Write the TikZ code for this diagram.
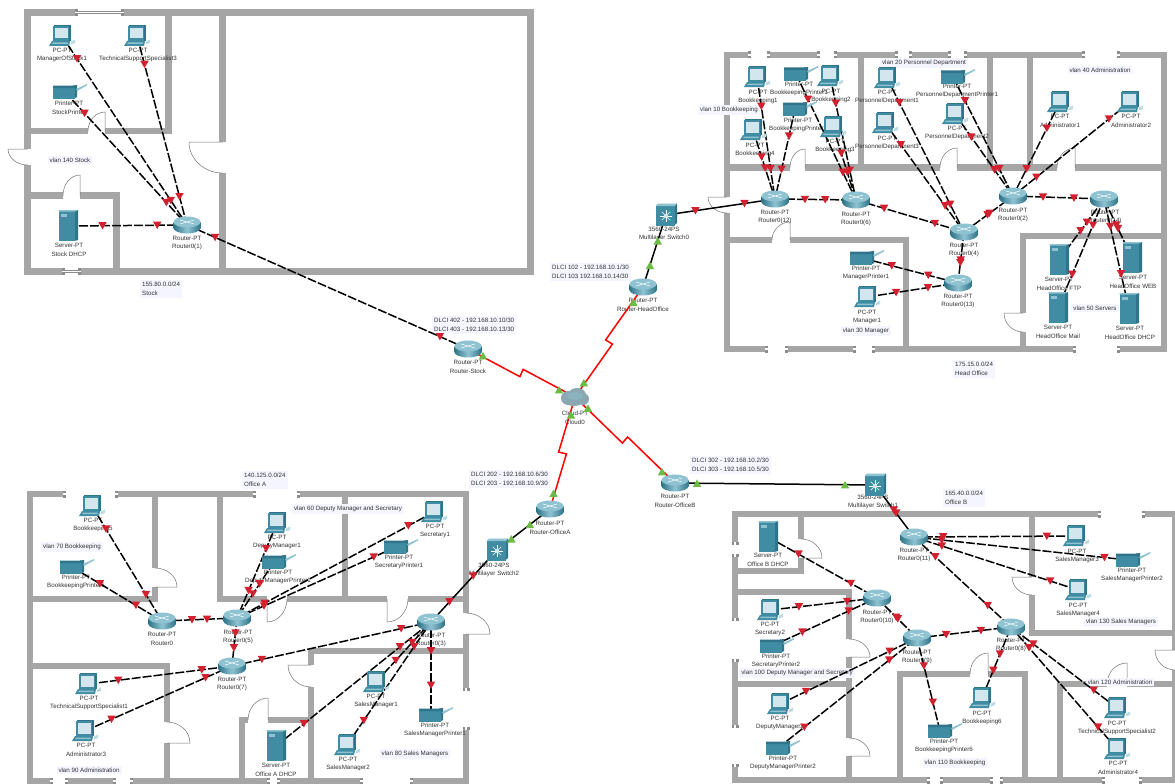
\documentclass[tikz,border=0pt]{standalone}
\usepackage{fontspec}
\setmainfont{Liberation Sans}
\usetikzlibrary{calc,arrows.meta}
\pgfdeclarelayer{walls}\pgfdeclarelayer{txt}\pgfdeclarelayer{links}\pgfdeclarelayer{tris}
\pgfsetlayers{walls,txt,links,main,tris}
\definecolor{wallc}{HTML}{A6A6A6}
\definecolor{teal1}{HTML}{3F8CA3}
\definecolor{teal2}{HTML}{2F7488}
\definecolor{teal3}{HTML}{8FC3D2}
\definecolor{scr}{HTML}{D3E6ED}
\definecolor{redt}{HTML}{D3202F}
\definecolor{grnt}{HTML}{6CBB45}
\definecolor{notec}{HTML}{F5F5FF}
\definecolor{txtc}{HTML}{333333}
\tikzset{
 wall/.style={draw=wallc,line width=6.5pt,line cap=rect},
 leaf/.style={draw=black!55,line width=.5pt},
 devlabel/.style={font=\fontsize{6.2}{8.5}\selectfont,text=txtc,align=center,inner sep=0pt},
 note/.style={font=\fontsize{6.2}{8.5}\selectfont,text=txtc,align=left,fill=notec,inner sep=2pt},
 lan/.style={draw=black,line width=1.5pt,dash pattern=on 9pt off 2pt},
 eth/.style={draw=black,line width=1.5pt},
 serial/.style={draw=red,line width=1.5pt},
}
% icons
\newcommand\pcicon{%
 \fill[teal2] (-8,-11)--(9,-11)--(9,5)--(-8,5)--cycle;
 \fill[teal1] (-9,-10)--(7,-10)--(7,5)--(-9,5)--cycle;
 \fill[scr] (-7,-8)--(5.5,-8)--(5.5,2.5)--(-7,2.5)--cycle;
 \fill[teal1] (-10,5)--(8,5)--(7,10)--(-13,10)--cycle;
 \fill[teal3] (-9,6.5)--(6,6.5)--(5.5,8)--(-10,8)--cycle;
 \fill[teal3!60] (9,5.5)--(13,3.5)--(13,7)--(9,8.5)--cycle;
}
\newcommand\prnicon{%
 \fill[teal2] (8,-6.5)--(12,-7)--(12,5)--(8,7)--cycle;
 \fill[teal1] (-12,-4)--(10,-4)--(10,7)--(-12,7)--cycle;
 \fill[teal2] (-12,-6.5)--(12,-6.5)--(10,-4)--(-12,-4)--cycle;
 \fill[teal3] (11,-3)--(22,-8)--(22,-6.5)--(12,-1)--cycle;
}
\newcommand\srvicon{%
 \fill[teal2] (6,-15)--(10,-16)--(10,14)--(6,15)--cycle;
 \fill[teal1] (-9.5,-15)--(7,-15)--(7,15)--(-9.5,15)--cycle;
 \fill[teal3] (-7.5,-12)--(-1,-12)--(-1,-9.5)--(-7.5,-9.5)--cycle;
 \fill[teal3] (-9.5,-16)--(10,-16)--(7,-14.5)--(-9.5,-14.5)--cycle;
}
\newcommand\rtricon{%
 \path[left color=teal2,right color=teal2,middle color=teal3] (-13.5,-3) rectangle (13.5,3);
 \path[left color=teal2,right color=teal2,middle color=teal3] (0,3) ellipse (13.5pt and 5.5pt);
 \fill[teal3] (0,-3) ellipse (13.5pt and 5.5pt);
 \draw[white,line width=.5pt] (-7,-5)--(7,-1) (-7,-1)--(7,-5);
}
\newcommand\swicon{%
 \fill[teal2] (8,-10.5)--(11,-11.5)--(11,8)--(8,10.5)--cycle;
 \fill[teal1] (-10.5,-9)--(9,-9)--(9,10.5)--(-10.5,10.5)--cycle;
 \fill[teal3] (-10.5,-9)--(9,-9)--(11,-11.5)--(-8,-11.5)--cycle;
 \foreach \a in {0,45,...,315}{\draw[white,line width=.5pt] (0,1) -- ++(\a:6pt);}
 \fill[scr] (0,1) circle (2pt);
}
\newcommand\cloudicon{%
 \fill[teal3!60!gray] (-7,1) ellipse (7pt and 7pt) (2,-2) ellipse (9pt and 7pt) (8,2) ellipse (6pt and 6pt) (-1,3) ellipse (10pt and 6pt);
 \fill[teal3!75!gray] (0,-1) ellipse (8pt and 4pt);
}
\newcommand\dev[7]{% id, icon, x, y, lx, ly, text
 \coordinate (#1) at (#3,#4);
 \begin{pgfonlayer}{txt}\node[devlabel] (#1-l) at (#5,#6) {#7};\end{pgfonlayer}
 \begin{scope}[shift={(#3,#4)}]#2\end{scope}}
\newcommand\pc[6]{\dev{#1}{\pcicon}{#2}{#3}{#4}{#5}{PC-PT\\#6}}
\newcommand\prn[6]{\dev{#1}{\prnicon}{#2}{#3}{#4}{#5}{Printer-PT\\#6}}
\newcommand\srv[6]{\dev{#1}{\srvicon}{#2}{#3}{#4}{#5}{Server-PT\\#6}}
\newcommand\rtr[6]{\dev{#1}{\rtricon}{#2}{#3}{#4}{#5}{Router-PT\\#6}}
\newcommand\msw[6]{\dev{#1}{\swicon}{#2}{#3}{#4}{#5}{3560-24PS\\#6}}
\newcommand\rtri[3]{\begin{pgfonlayer}{tris}\fill[redt,shift={($(#1)!#3!(#2)$)}] (-4.2,-3.6)--(4.2,-3.6)--(0,3.8)--cycle;\end{pgfonlayer}}
\newcommand\gtri[3]{\begin{pgfonlayer}{tris}\fill[grnt,shift={($(#1)!#3!(#2)$)}] (-4.2,3.6)--(4.2,3.6)--(0,-3.8)--cycle;\end{pgfonlayer}}
\newcommand\lk[4]{\draw[lan] (#1)--(#2);\rtri{#1}{#2}{#3}\rtri{#1}{#2}{#4}}
\newcommand\ek[4]{\draw[eth] (#1)--(#2);\rtri{#1}{#2}{#3}\rtri{#1}{#2}{#4}}
\newcommand\gk[4]{\draw[eth] (#1)--(#2);\gtri{#1}{#2}{#3}\gtri{#1}{#2}{#4}}
\newcommand\sk[4]{\draw[serial] (#1)--($(#1)!.5!(#2)!4pt!-90:(#2)$)--($(#1)!.5!(#2)!4pt!90:(#2)$)--(#2);\gtri{#1}{#2}{#3}\gtri{#1}{#2}{#4}}
% door: hinge, other jamb, leaf end
\newcommand\door[6]{%
 \draw[white,line width=7.6pt] (#1,#2)--(#3,#4);
 \draw[leaf] (#1,#2)--(#5,#6) .. controls ($(#5,#6)+.55*(#3,#4)-.55*(#1,#2)$) and ($(#3,#4)+.55*(#5,#6)-.55*(#1,#2)$) .. (#3,#4);}
\newcommand\win[4]{%
 \draw[white,line width=7.6pt] (#1,#2)--(#3,#4);
 \draw[black!45,line width=2.6pt,{Bar[width=7pt,length=1pt]}-{Bar[width=7pt,length=1pt]}] (#1,#2)--(#3,#4);
 \draw[white,line width=1.6pt] (#1,#2)--(#3,#4);}
\newcommand\nt[5]{\begin{pgfonlayer}{txt}\node[note,#4] (#1) at (#2,#3) {#5};\end{pgfonlayer}}
\begin{document}
\begin{tikzpicture}[x=1pt,y=-1pt]
\useasboundingbox (0,0) rectangle (1175,784);
\begin{pgfonlayer}{walls}
\fill[white] (0,0) rectangle (1175,784);
% ---- Stock walls
\draw[wall] (27.5,12.5) rectangle (530.5,271.5);
\draw[wall] (168.5,12.5)--(168.5,131) (27.5,131)--(168.5,131) (222.5,12.5)--(222.5,271.5);
\draw[wall] (27.5,195.5)--(116.5,195.5)--(116.5,271.5);
\win{75}{12.5}{124}{12.5} \win{62}{271.5}{81}{271.5}
\door{105}{131}{88}{131}{105}{112}
\door{27.5}{149}{27.5}{165}{8}{149}
\door{222.5}{142}{222.5}{173}{189}{142}
\door{80}{195.5}{63}{195.5}{80}{175}
% ---- Head office walls
\draw[wall] (727,55) rectangle (1164,349);
\draw[wall] (727,167.5)--(1164,167.5) (861,55)--(861,167.5) (990,55)--(990,167.5) (1030,55)--(1030,167.5);
\draw[wall] (727,240)--(906,240)--(906,349) (1023,349)--(1023,236)--(1164,236);
\win{748}{55}{770}{55} \win{817}{55}{837}{55} \win{895}{55}{912}{55} \win{948}{55}{967}{55} \win{1082}{55}{1120}{55}
\win{765}{349}{788}{349} \win{853}{349}{875}{349} \win{1073}{349}{1120}{349}
\door{805}{167.5}{790}{167.5}{805}{149}
\door{957}{167.5}{940}{167.5}{957}{148}
\door{1075}{167.5}{1057}{167.5}{1075}{148}
\door{727}{197}{727}{213}{708}{197}
\door{790}{240}{772}{240}{790}{222}
\door{1023}{313}{1023}{332}{1004}{313}
% ---- Office A walls
\draw[wall] (30,781)--(30,494)--(466,494)--(466,781)--cycle;
\draw[wall] (155,494)--(155,599)--(30,599) (220,494)--(220,599)--(466,599) (345,494)--(345,599);
\draw[wall] (30,666)--(167,666)--(167,781) (311,781)--(311,651)--(466,651) (242,781)--(242,720)--(311,720);
\win{63}{494}{118}{494} \win{253}{494}{300}{494} \win{50}{781}{68}{781} \win{113}{781}{133}{781} \win{267}{781}{280}{781} \win{360}{781}{413}{781} \win{466}{688}{466}{730}
\door{155}{587}{155}{568}{177}{587}
\door{267}{599}{287}{599}{267}{622}
\door{387}{599}{408}{599}{387}{622}
\door{466}{634}{466}{613}{490}{634}
\door{167}{743}{167}{722}{190}{743}
\door{311}{665}{311}{687}{288}{665}
\door{268}{720}{248}{720}{268}{698}
% ---- Office B walls
\draw[wall] (1175,514)--(735,514)--(735,780)--(1175,780);
\draw[wall] (1175,514)--(1175,780);
\draw[wall] (801,514)--(801,571)--(735,571) (735,592)--(849,592)--(849,780) (735,684)--(849,684);
\draw[wall] (900,780)--(900,674)--(1025,674)--(1025,780) (1060,780)--(1060,684)--(1175,684);
\draw[wall] (1032,514)--(1032,633)--(1175,633);
\win{1098}{514}{1145}{514} \win{735}{542}{735}{557} \win{735}{618}{735}{662} \win{735}{725}{735}{767}
\win{927}{780}{943}{780} \win{990}{780}{1003}{780} \win{1102}{780}{1142}{780}
\door{801}{558}{801}{539}{822}{558}
\door{849}{657}{849}{639}{870}{657}
\door{849}{756}{849}{738}{870}{756}
\door{988}{674}{970}{674}{988}{653}
\door{1032}{577}{1032}{595}{1012}{577}
\door{1127}{684}{1107}{684}{1127}{663}
\door{1175}{650}{1175}{670}{1155}{650}
\end{pgfonlayer}
% ---- notes
\nt{n1}{140}{289}{anchor=west}{155.80.0.0/24\\Stock}
\nt{n2}{953}{369}{anchor=west}{175.15.0.0/24\\Head Office}
\nt{n3}{242}{480}{anchor=west}{140.125.0.0/24\\Office A}
\nt{n4}{943}{498}{anchor=west}{165.40.0.0/24\\Office B}
\nt{d1}{550}{272}{anchor=west}{DLCI 102 - 192.168.10.1/30\\DLCI 103 192.168.10.14/30}
\nt{d2}{432}{325}{anchor=west}{DLCI 402 - 192.168.10.10/30\\DLCI 403 - 192.168.10.13/30}
\nt{d3}{469}{479}{anchor=west}{DLCI 202 - 192.168.10.6/30\\DLCI 203 - 192.168.10.9/30}
\nt{d4}{690}{465}{anchor=west}{DLCI 302 - 192.168.10.2/30\\DLCI 303 - 192.168.10.5/30}
\nt{v140}{70}{160}{}{vlan 140 Stock}
\nt{v10}{729}{110}{}{vlan 10 Bookkeeping}
\nt{v20}{924}{63}{}{vlan 20 Personnel Department}
\nt{v30}{866}{331}{}{vlan 30 Manager}
\nt{v40}{1100}{70}{}{vlan 40 Administration}
\nt{v50}{1095}{308}{}{vlan 50 Servers}
\nt{v60}{348}{509}{}{vlan 60 Deputy Manager and Secretary}
\nt{v70}{72}{547}{}{vlan 70 Bookkeeping}
\nt{v80}{415}{754}{}{vlan 80 Sales Managers}
\nt{v90}{89}{770}{}{vlan 90 Administration}
\nt{v100}{797}{673}{}{vlan 100 Deputy Manager and Secretary}
\nt{v110}{955}{763}{}{vlan 110 Bookkeeping}
\nt{v120}{1120}{682}{}{vlan 120 Administration}
\nt{v130}{1121}{622}{}{vlan 130 Sales Managers}
% ---- devices: Stock
\pc{mos}{62}{36}{62}{55}{ManagerOfStock1}
\pc{tss3}{137}{36}{138}{55}{TechnicalSupportSpecialist3}
\prn{sp}{65}{92}{69}{108}{StockPrinter}
\srv{sd}{68}{226}{69}{250}{Stock DHCP}
\rtr{r1}{187}{225}{187}{243}{Router0(1)}
% centre
\rtr{rs}{468}{349}{468}{367}{Router-Stock}
\dev{cl}{\cloudicon}{575}{397}{575}{418}{Cloud-PT\\Cloud0}
\rtr{rh}{643}{287}{643}{305}{Router-HeadOffice}
\msw{s0}{666}{215}{664}{234}{Multilayer Switch0}
\rtr{ra}{550}{509}{550}{528}{Router-OfficeA}
\rtr{rb}{675}{483}{675}{501}{Router-OfficeB}
\msw{s1}{875}{485}{873}{502}{Multilayer Switch1}
\msw{s2}{497}{550}{494}{570}{Multilayer Switch2}
% Head office
\pc{b1}{757}{77}{758}{97}{Bookkeeping1}
\prn{bp1}{796}{74}{799}{89}{BookkeepingPrinter1}
\pc{b2}{830}{76}{831}{96}{Bookkeeping2}
\prn{bp2}{795}{109}{798}{125}{BookkeepingPrinter2}
\pc{b4}{753}{130}{755}{150}{Bookkeeping4}
\pc{b3}{833}{127}{835}{146}{Bookkeeping3}
\rtr{r12}{775}{199}{775}{217}{Router0(12)}
\rtr{r6}{856}{200}{856}{219}{Router0(6)}
\rtr{r4}{964}{232}{964}{250}{Router0(4)}
\rtr{r2}{1013}{196}{1013}{215}{Router0(2)}
\rtr{r14}{1104}{199}{1105}{217}{Router0(14)}
\rtr{r13}{958}{283}{958}{301}{Router0(13)}
\prn{mp1}{862}{258}{866}{273}{ManagerPrinter1}
\pc{m1}{867}{297}{867}{317}{Manager1}
\pc{pd1}{887}{78}{887}{97}{PersonnelDepartment1}
\pc{pd3}{885}{123}{887}{143}{PersonnelDepartment3}
\prn{pdp}{953}{77}{957}{91}{PersonnelDepartmentPrinter1}
\pc{pd2}{955}{114}{957}{133}{PersonnelDepartment2}
\pc{ad1}{1060}{102}{1060}{121}{Administrator1}
\pc{ad2}{1130}{102}{1131}{121}{Administrator2}
\srv{ftp}{1059}{260}{1059}{284}{HeadOffice FTP}
\srv{web}{1132}{258}{1133}{282}{HeadOffice WEB}
\srv{mail}{1058}{308}{1058}{332}{HeadOffice Mail}
\srv{dhcp}{1129}{309}{1130}{333}{HeadOffice DHCP}
% Office A
\pc{b5}{92}{506}{93}{525}{Bookkeeping5}
\prn{bp5}{72}{567}{76}{582}{BookkeepingPrinter5}
\rtr{r0}{162}{621}{162}{639}{Router0}
\rtr{r5}{237}{618}{238}{637}{Router0(5)}
\rtr{r7}{232}{666}{232}{684}{Router0(7)}
\rtr{r3}{431}{622}{431}{640}{Router0(3)}
\pc{dm1}{277}{523}{277}{542}{DeputyManager1}
\prn{dmp1}{274}{562}{278}{577}{DeputyManagerPrinter1}
\pc{se1}{434}{512}{435}{531}{Secretary1}
\prn{sep1}{396}{547}{399}{562}{SecretaryPrinter1}
\pc{ts1}{88}{684}{89}{703}{TechnicalSupportSpecialist1}
\pc{ad3}{85}{731}{86}{750}{Administrator3}
\srv{da}{276}{746}{276}{770}{Office A DHCP}
\pc{sm1}{376}{682}{376}{701}{SalesManager1}
\pc{sm2}{347}{745}{348}{764}{SalesManager2}
\prn{smp1}{431}{715}{435}{730}{SalesManagerPrinter1}
% Office B
\srv{db}{768}{537}{768}{560}{Office B DHCP}
\rtr{r11}{914}{537}{914}{555}{Router0(11)}
\rtr{r10}{877}{598}{877}{617}{Router0(10)}
\rtr{r9}{917}{638}{917}{657}{Router0(9)}
\rtr{r8}{1011}{627}{1011}{645}{Router0(8)}
\pc{sm3}{1076}{536}{1077}{556}{SalesManager3}
\prn{smp2}{1128}{560}{1132}{575}{SalesManagerPrinter2}
\pc{sm4}{1078}{590}{1078}{610}{SalesManager4}
\pc{se2}{770}{610}{770}{629}{Secretary2}
\prn{sep2}{772}{646}{776}{661}{SecretaryPrinter2}
\pc{dm2}{780}{704}{780}{723}{DeputyManager2}
\prn{dmp2}{778}{748}{783}{763}{DeputyManagerPrinter2}
\prn{bp6}{940}{731}{944}{746}{BookkeepingPrinter6}
\pc{b6}{982}{698}{982}{718}{Bookkeeping6}
\pc{ts2}{1117}{708}{1117}{728}{TechnicalSupportSpecialist2}
\pc{ad4}{1117}{749}{1118}{768}{Administrator4}
% ---- links
\begin{pgfonlayer}{links}
\lk{mos}{r1}{.12}{.87}
\lk{tss3}{r1}{.15}{.85}
\lk{sp}{r1}{.16}{.83}
\lk{sd}{r1}{.29}{.75}
\lk{r1}{rs}{.1}{.9}
\sk{rs}{cl}{.14}{.85}
\sk{cl}{rh}{.13}{.86}
\sk{cl}{ra}{.16}{.86}
\sk{cl}{rb}{.13}{.87}
\gk{rh}{s0}{.3}{.64}
\gk{rb}{s1}{.11}{.85}
\gk{ra}{s2}{.38}{.73}
\ek{s0}{r12}{.27}{.72}
\ek{s1}{r11}{.48}{.54}
\ek{s2}{r3}{.36}{.72}
% head office
\lk{b1}{r12}{.24}{.75}
\lk{b4}{r12}{.39}{.55}
\lk{bp2}{r12}{.3}{.67}
\lk{bp1}{r6}{.2}{.78}
\lk{b2}{r6}{.22}{.76}
\lk{b3}{r6}{.36}{.62}
\lk{r12}{r6}{.37}{.62}
\lk{r6}{r4}{.26}{.73}
\lk{r4}{r2}{.48}{.52}
\lk{r2}{r14}{.33}{.67}
\lk{r4}{r13}{.55}{.6}
\lk{pd1}{r4}{.16}{.82}
\lk{pd3}{r4}{.2}{.76}
\lk{pdp}{r2}{.2}{.77}
\lk{pd2}{r2}{.28}{.68}
\lk{ad1}{r2}{.28}{.71}
\lk{ad2}{r2}{.18}{.8}
\lk{mp1}{r13}{.31}{.69}
\lk{m1}{r13}{.32}{.67}
\lk{ftp}{r14}{.48}{.62}
\lk{mail}{r14}{.31}{.76}
\lk{web}{r14}{.5}{.56}
\lk{dhcp}{r14}{.32}{.75}
% office A
\lk{b5}{r0}{.2}{.77}
\lk{bp5}{r0}{.31}{.71}
\lk{r0}{r5}{.4}{.6}
\lk{dm1}{r5}{.27}{.71}
\lk{dmp1}{r5}{.39}{.57}
\lk{se1}{r5}{.13}{.86}
\lk{sep1}{r5}{.14}{.83}
\lk{r5}{r7}{.31}{.62}
\lk{ts1}{r7}{.21}{.79}
\lk{ad3}{r7}{.18}{.82}
\lk{r7}{r3}{.15}{.85}
\lk{da}{r3}{.18}{.8}
\lk{sm1}{r3}{.36}{.66}
\lk{sm2}{r3}{.2}{.8}
\lk{smp1}{r3}{.32}{.69}
% office B
\lk{db}{r10}{.28}{.76}
\lk{se2}{r10}{.27}{.72}
\lk{sep2}{r10}{.29}{.73}
\lk{r10}{r9}{.48}{.52}
\lk{dm2}{r9}{.19}{.8}
\lk{dmp2}{r9}{.19}{.8}
\lk{r9}{r8}{.31}{.68}
\lk{r11}{r8}{.22}{.76}
\lk{bp6}{r9}{.31}{.7}
\lk{b6}{r8}{.39}{.62}
\lk{ts2}{r8}{.22}{.79}
\lk{ad4}{r8}{.18}{.83}
\lk{sm3}{r11}{.18}{.82}
\lk{smp2}{r11}{.11}{.87}
\lk{sm4}{r11}{.17}{.83}
\end{pgfonlayer}
\end{tikzpicture}
\end{document}
